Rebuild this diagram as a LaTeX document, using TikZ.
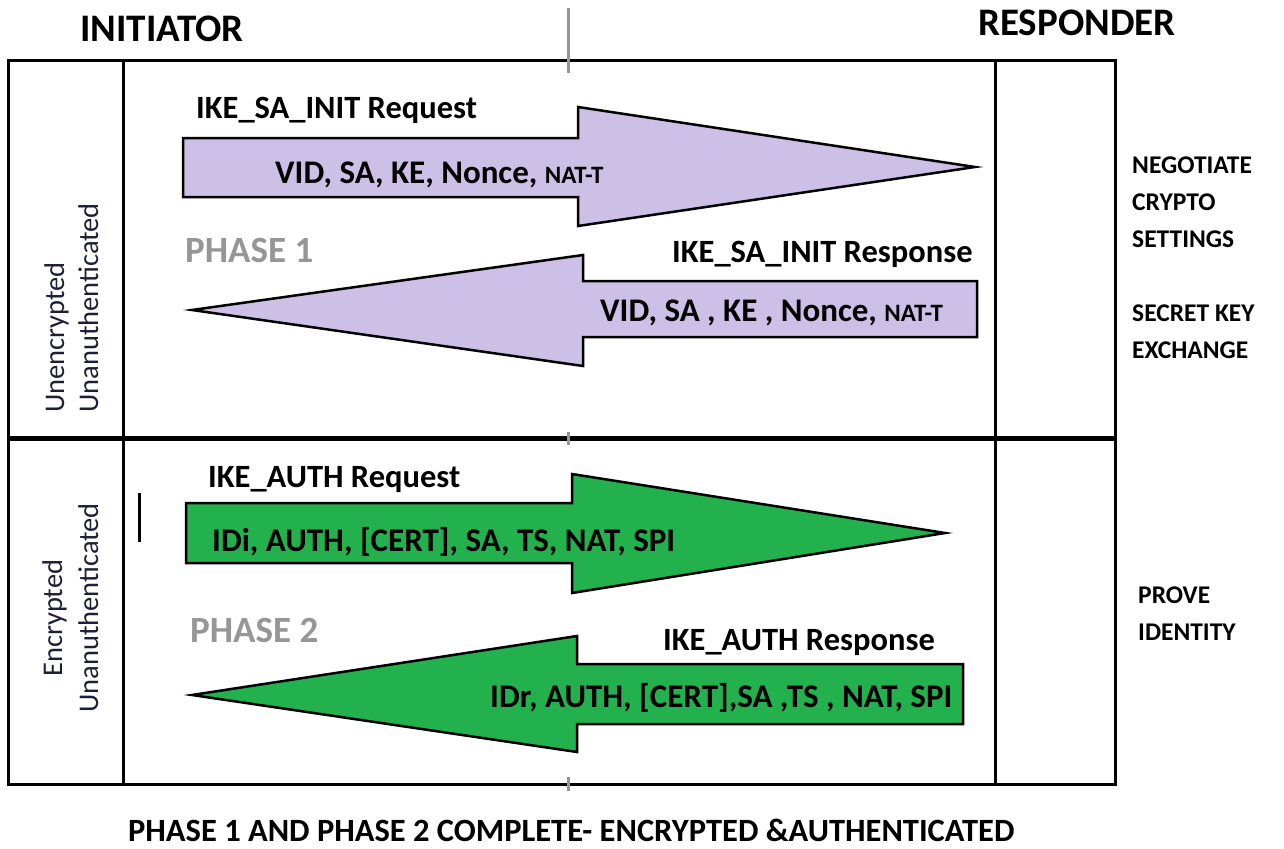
\documentclass[tikz,border=0pt]{standalone}
\usepackage{fontspec}
\setmainfont{Carlito}
\usetikzlibrary{positioning}
\definecolor{initpurple}{RGB}{204,192,230}
\definecolor{authgreen}{RGB}{34,177,76}
\definecolor{phasegray}{RGB}{150,150,150}
\definecolor{sidenavy}{RGB}{28,32,52}

\begin{document}
\begin{tikzpicture}[
    x = 1pt, y = -1pt,
    frame/.style = {draw = black, line width = 3pt},
    tick/.style = {draw = phasegray, line width = 3pt},
    blockarrow/.style = {draw = black, line width = 2.5pt, line join = miter},
    party/.style = {font = \fontsize{39}{41}\selectfont\bfseries, inner sep = 0pt, anchor = base west},
    msg/.style = {font = \fontsize{32.5}{34}\selectfont\bfseries, inner sep = 0pt, anchor = base west},
    payload/.style = {font = \fontsize{33}{35}\selectfont\bfseries, inner sep = 0pt, anchor = base west},
    phase/.style = {font = \fontsize{37}{39}\selectfont\bfseries, text = phasegray, inner sep = 0pt, anchor = base west},
    purpose/.style = {font = \fontsize{25.5}{37}\selectfont\bfseries, inner sep = 0pt, anchor = north west, align = left},
    state/.style = {font = \fontsize{28.5}{30}\selectfont, text = sidenavy, inner sep = 0pt, anchor = base west, rotate = 90}
]
\newcommand\natt{{\fontsize{25}{27}\selectfont NAT-T}}
\useasboundingbox (0,0) rectangle (1284,848);

% frame and lanes
\draw[frame] (8,61) rectangle (1115,784);
\draw[frame] (123,61) -- (123,784);
\draw[frame] (995,61) -- (995,784);
\draw[draw = black, line width = 5pt] (8,438) -- (1115,438);
\draw[tick] (568,8) -- (568,73);
\draw[tick] (568,432) -- (568,445);
\draw[tick] (568,777) -- (568,791);
\draw[line width = 3pt] (139,493) -- (139,542);

% phase 1 arrows
\draw[blockarrow, fill = initpurple] (183,138) -- (578,138) -- (578,107) -- (975,167)
    -- (578,226) -- (578,197) -- (183,197) -- cycle;
\draw[blockarrow, fill = initpurple] (192,310) -- (583,255) -- (583,281) -- (977,281)
    -- (977,337) -- (583,337) -- (583,366) -- cycle;

% phase 2 arrows
\draw[blockarrow, fill = authgreen] (186,503) -- (572,503) -- (572,474) -- (945,533)
    -- (572,593) -- (572,563) -- (186,563) -- cycle;
\draw[blockarrow, fill = authgreen] (192,695) -- (577,636) -- (577,664) -- (963,664)
    -- (963,724) -- (577,724) -- (577,752) -- cycle;

% headings
\node[party] (initiator) at (80,42) {INITIATOR};
\node[party] (responder) at (978,36) {RESPONDER};

% messages
\node[msg] (saReq) at (196,118) {IKE\_SA\_INIT Request};
\node[payload] (saReqLoad) at (275,183) {VID, SA, KE, Nonce, \natt};
\node[phase] (phaseOne) at (185,262) {PHASE 1};
\node[msg] (saResp) at (672,262) {IKE\_SA\_INIT Response};
\node[payload] (saRespLoad) at (600,321) {VID, SA , KE , Nonce, \natt};

\node[msg] (authReq) at (208,487) {IKE\_AUTH Request};
\node[payload] (authReqLoad) at (212,551) {IDi, AUTH, [CERT], SA, TS, NAT, SPI};
\node[phase] (phaseTwo) at (190,642) {PHASE 2};
\node[msg] (authResp) at (663,650) {IKE\_AUTH Response};
\node[payload] (authRespLoad) at (490,707) {IDr, AUTH, [CERT],SA ,TS , NAT, SPI};

% purposes
\node[purpose] (negotiate) at (1132,157) {NEGOTIATE\\CRYPTO\\SETTINGS};
\node[purpose] (secret) at (1132,305) {SECRET KEY\\EXCHANGE};
\node[purpose] (prove) at (1138,587) {PROVE\\IDENTITY};

% security state
\node[state] (unenc) at (64,413) {Unencrypted};
\node[state] (unauthA) at (98,413) {Unanuthenticated};
\node[state] (enc) at (62,677) {Encrypted};
\node[state] (unauthB) at (98,713) {Unanuthenticated};

\node[party, font = \fontsize{32.5}{34}\selectfont\bfseries] (complete) at (128,841)
    {PHASE 1 AND PHASE 2 COMPLETE- ENCRYPTED \&AUTHENTICATED};
\end{tikzpicture}
\end{document}
